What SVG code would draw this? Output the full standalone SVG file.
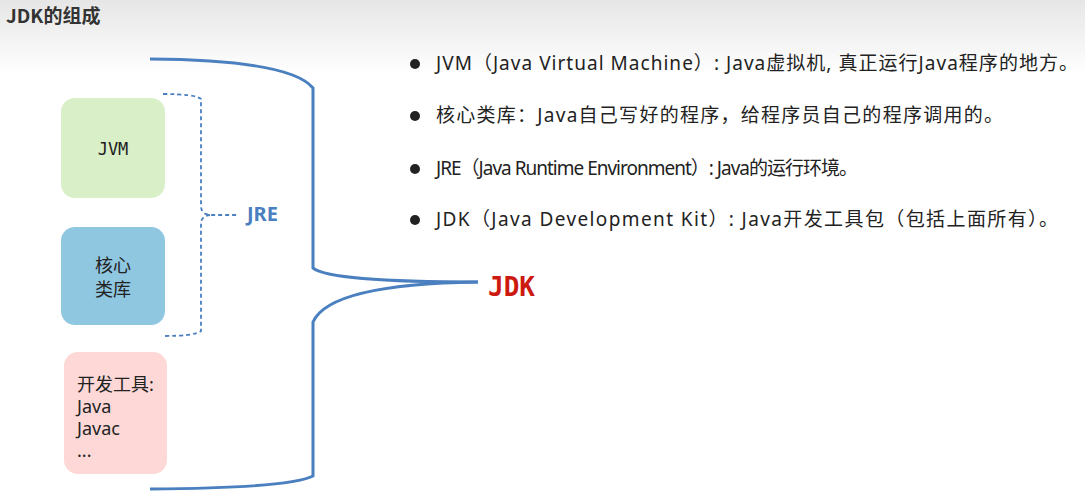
<svg xmlns="http://www.w3.org/2000/svg" width="1085" height="498" viewBox="0 0 1085 498">
<defs>
<linearGradient id="bg" x1="0" y1="0" x2="0" y2="1"><stop offset="0" stop-color="#e6e6e6"/><stop offset="1" stop-color="#ffffff"/></linearGradient>
</defs>
<style>
.t{font-family:"Noto Sans","Noto Sans CJK SC",sans-serif;font-size:18px;fill:#222}
.b{font-family:"Noto Sans","Noto Sans CJK SC",sans-serif;font-size:19px;fill:#222}
.m{font-family:"DejaVu Sans Mono","Noto Sans CJK SC",monospace;font-size:17px;fill:#222}
.br{fill:none;stroke:#4a7fc0;stroke-width:3}
.ds{fill:none;stroke:#4a7fc0;stroke-width:1.8;stroke-dasharray:4 3}
</style>
<rect width="1085" height="498" fill="#fff"/>
<rect width="1085" height="75" fill="url(#bg)"/>
<text x="6" y="23" style="font-family:'Noto Sans CJK SC',sans-serif;font-size:19px;font-weight:bold;fill:#333">JDK的组成</text>
<g id="jvm"><rect x="61" y="98" width="104" height="100" rx="14" fill="#d9efc8"/><text class="m" x="113" y="155" text-anchor="middle">JVM</text></g>
<g id="core"><rect x="61" y="227" width="104" height="98" rx="14" fill="#8fc6e0"/><text class="t" x="113" y="272" text-anchor="middle">核心</text><text class="t" x="113" y="296" text-anchor="middle">类库</text></g>
<g id="tools"><rect x="64" y="352" width="103" height="122" rx="14" fill="#fdd8d6"/><text class="t" x="77" y="391">开发工具:</text><text class="t" x="77" y="413">Java</text><text class="t" x="77" y="435">Javac</text><text class="t" x="77" y="457">...</text></g>
<g id="connectors">
<path class="br" d="M150,59 Q290,60 313,88 L313,268 Q330,282 478,282"/>
<path class="br" d="M478,282 Q330,284 313,322 L313,476 Q290,488 150,489"/>
<path class="ds" d="M163,94 Q195,94 201,99 L201,206 Q201,214 210,215 L238,215 M210,215 Q201,216 201,224 L201,331 Q195,336 163,336"/>
</g>
<g id="jre"><text x="247" y="221" style="font-family:'Noto Sans',sans-serif;font-size:20px;font-weight:bold;fill:#4a7fc0">JRE</text></g>
<g id="jdk"><text x="488" y="296" style="font-family:'DejaVu Sans Mono',monospace;font-size:26px;font-weight:bold;fill:#cc1a10">JDK</text></g>
<g id="bullets">
<circle cx="415" cy="64" r="5" fill="#222"/><text class="b" x="436" y="70" textLength="642" lengthAdjust="spacing">JVM（Java Virtual Machine）: Java虚拟机, 真正运行Java程序的地方。</text>
<circle cx="415" cy="116" r="5" fill="#222"/><text class="b" x="436" y="122" textLength="567" lengthAdjust="spacing">核心类库：Java自己写好的程序，给程序员自己的程序调用的。</text>
<circle cx="415" cy="169" r="5" fill="#222"/><text class="b" x="436" y="175" textLength="422" lengthAdjust="spacing">JRE（Java Runtime Environment）: Java的运行环境。</text>
<circle cx="415" cy="220" r="5" fill="#222"/><text class="b" x="436" y="226" textLength="622" lengthAdjust="spacing">JDK（Java Development Kit）: Java开发工具包（包括上面所有）。</text>
</g>
</svg>
